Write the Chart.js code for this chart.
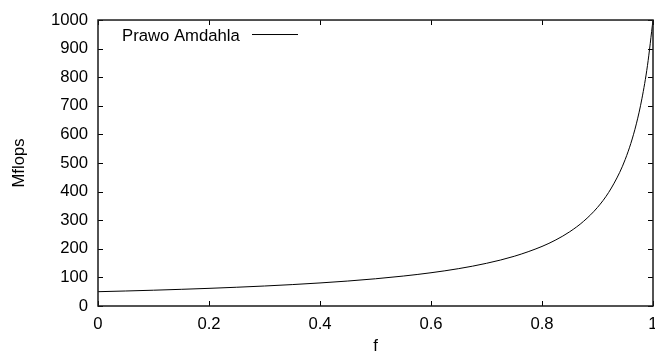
<!DOCTYPE html>
<html lang="pl">
<head>
<meta charset="utf-8">
<title>Prawo Amdahla</title>
<style>
  html, body { margin: 0; padding: 0; background: #fff; overflow: hidden; }
  #wrap { width: 655px; height: 352px; }
</style>
</head>
<body>
<div id="wrap"><canvas id="myChart"></canvas></div>
<script src="https://cdn.jsdelivr.net/npm/chart.js"></script>
<script>
    // values
    var seriesLabel = 'Prawo Amdahla';
    var fValues = [0, 0.05, 0.1, 0.15, 0.2, 0.25, 0.3, 0.35, 0.4, 0.45, 0.5, 0.55, 0.6, 0.65, 0.7, 0.75,
                   0.8, 0.825, 0.85, 0.875, 0.9, 0.92, 0.94, 0.95, 0.96, 0.97, 0.98, 0.99, 1];
    var mflops = [50, 52.5, 55.2, 58.3, 61.7, 65.6, 69.9, 74.9, 80.6, 87.3, 95.2, 104.7, 116.3, 130.7, 149.3, 173.9,
                  208.3, 231.2, 259.7, 296.3, 344.8, 396.8, 467.3, 512.8, 568.2, 636.9, 724.6, 840.3, 1000];
    var xTitle = 'f';
    var yTitle = 'Mflops';

    var points = [];
    for (var i = 0; i < fValues.length; i++) {
        points.push({x: fValues[i], y: mflops[i]});
    }

    var FONT = {family: "'Liberation Sans', Arial, sans-serif", size: 16.7};

    // plain numbers like gnuplot: 0 0.2 ... 1, 1000 (no thousands separator)
    function plain(v) {
        return String(Math.round(v * 1000) / 1000);
    }

    // gnuplot style: full frame, ticks pointing inwards on all sides, key with text then sample
    var frame = {
        id: 'frame',
        afterDatasetsDraw: function (chart) {
            var ctx = chart.ctx, a = chart.chartArea;
            var xs = chart.scales.x, ys = chart.scales.y;
            var tl = 5;
            ctx.save();
            ctx.strokeStyle = '#000';
            ctx.lineWidth = 1;
            ctx.beginPath();
            xs.ticks.forEach(function (t, i) {
                var px = Math.round(xs.getPixelForTick(i)) + 0.5;
                ctx.moveTo(px, a.bottom); ctx.lineTo(px, a.bottom - tl);
                ctx.moveTo(px, a.top); ctx.lineTo(px, a.top + tl);
            });
            ys.ticks.forEach(function (t, i) {
                var py = Math.round(ys.getPixelForTick(i)) + 0.5;
                ctx.moveTo(a.left, py); ctx.lineTo(a.left + tl, py);
                ctx.moveTo(a.right, py); ctx.lineTo(a.right - tl, py);
            });
            ctx.stroke();
            ctx.lineWidth = 1.5;
            ctx.strokeStyle = '#1a1a1a';
            ctx.strokeRect(a.left, a.top, a.right - a.left, a.bottom - a.top);

            // key
            var ds = chart.data.datasets[0];
            ctx.font = FONT.size + 'px ' + FONT.family;
            ctx.fillStyle = '#000';
            ctx.textAlign = 'left';
            ctx.textBaseline = 'alphabetic';
            ctx.fillText(ds.label, a.left + 24, a.top + 20.5);
            ctx.lineWidth = 1;
            ctx.strokeStyle = ds.borderColor;
            ctx.beginPath();
            ctx.moveTo(a.left + 154, a.top + 14.5);
            ctx.lineTo(a.left + 200, a.top + 14.5);
            ctx.stroke();
            ctx.restore();
        }
    };

    var ctx = document.getElementById('myChart').getContext('2d');
    var myChart = new Chart(ctx, {
        type: 'line',
        data: {
            datasets: [{
                label: seriesLabel,
                data: points,
                borderColor: '#000',
                backgroundColor: '#000',
                borderWidth: 1,
                pointRadius: 0,
                cubicInterpolationMode: 'monotone',
                fill: false
            }]
        },
        options: {
            responsive: true,
            maintainAspectRatio: false,
            animation: false,
            layout: {padding: {top: 20, right: 2, left: 0, bottom: 0}},
            plugins: {
                legend: {display: false},
                tooltip: {enabled: false}
            },
            scales: {
                x: {
                    type: 'linear',
                    min: 0,
                    max: 1,
                    grid: {display: false, drawTicks: false},
                    border: {display: false},
                    ticks: {stepSize: 0.2, color: '#000', font: FONT, padding: 8, maxRotation: 0, callback: plain},
                    title: {display: true, text: xTitle, color: '#000', font: FONT, padding: {top: 0, bottom: -4}},
                    afterFit: function (scale) {
                        scale.height = 46;
                        scale.paddingRight = 0;
                    }
                },
                y: {
                    min: 0,
                    max: 1000,
                    grid: {display: false, drawTicks: false},
                    border: {display: false},
                    ticks: {stepSize: 100, color: '#000', font: FONT, padding: 10, callback: plain},
                    title: {display: true, text: yTitle, color: '#000', font: FONT, padding: {top: 9, bottom: 0}},
                    afterFit: function (scale) {
                        scale.width = 98;
                    }
                }
            }
        },
        plugins: [frame]
    });
</script>
</body>
</html>
